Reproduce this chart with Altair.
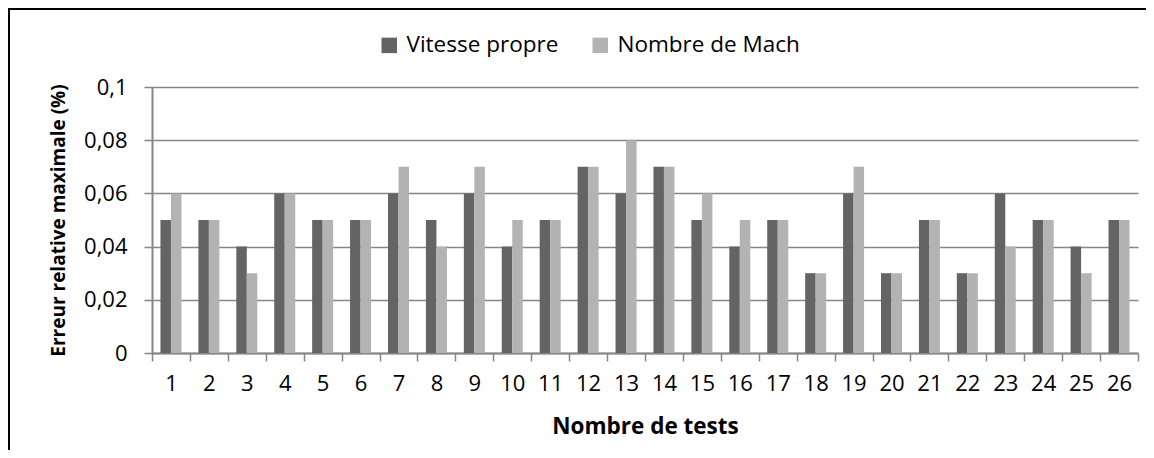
import altair as alt
import pandas as pd

tests = [str(i) for i in range(1, 27)]
vitesse = [0.05, 0.05, 0.04, 0.06, 0.05, 0.05, 0.06, 0.05, 0.06, 0.04, 0.05, 0.07, 0.06,
           0.07, 0.05, 0.04, 0.05, 0.03, 0.06, 0.03, 0.05, 0.03, 0.06, 0.05, 0.04, 0.05]
mach = [0.06, 0.05, 0.03, 0.06, 0.05, 0.05, 0.07, 0.04, 0.07, 0.05, 0.05, 0.07, 0.08,
        0.07, 0.06, 0.05, 0.05, 0.03, 0.07, 0.03, 0.05, 0.03, 0.04, 0.05, 0.03, 0.05]
series = ["Vitesse propre", "Nombre de Mach"]
colors = ["#646464", "#b3b3b3"]
y_ticks = [0, 0.02, 0.04, 0.06, 0.08, 0.1]

rows = []
for t, v, m in zip(tests, vitesse, mach):
    rows.append({"test": t, "serie": series[0], "valeur": v})
    rows.append({"test": t, "serie": series[1], "valeur": m})
df = pd.DataFrame(rows)

FONT = "Open Sans"
W, H = 986, 266
AXIS_GREY = "#868686"

bars = alt.Chart(df).mark_bar().encode(
    x=alt.X(
        "test:N", sort=tests,
        scale=alt.Scale(paddingInner=0, paddingOuter=0),
        axis=alt.Axis(
            title="Nombre de tests", labelAngle=0, tickBand="extent",
            domainColor=AXIS_GREY, domainWidth=2, tickColor=AXIS_GREY, tickWidth=1.5,
            tickSize=8, labelFont=FONT, labelFontSize=22, labelColor="black",
            labelPadding=12, titleFont=FONT, titleFontSize=22.5, titleFontWeight="bold",
            titleColor="black", titleX=W / 2, titleY=73, titleBaseline="middle",
            grid=False,
        ),
    ),
    xOffset=alt.XOffset("serie:N", sort=series,
                        scale=alt.Scale(paddingOuter=0.805, paddingInner=0)),
    y=alt.Y(
        "valeur:Q",
        scale=alt.Scale(domain=[0, 0.1], nice=False),
        axis=alt.Axis(
            values=y_ticks,
            labelExpr="replace(format(datum.value, '.2~f'), '.', ',')",
            title="Erreur relative maximale (%)",
            grid=True, gridColor=AXIS_GREY, gridWidth=1.5,
            domainColor=AXIS_GREY, domainWidth=2, tickColor=AXIS_GREY, tickWidth=1.5,
            tickSize=8, labelFont=FONT, labelFontSize=22, labelColor="black",
            labelPadding=17, titleFont=FONT, titleFontSize=19, titleFontWeight="bold",
            titleColor="black", titleX=-94, titleY=H / 2, titleBaseline="middle",
            titleAlign="center", titleLimit=400,
        ),
    ),
    color=alt.Color(
        "serie:N", sort=series,
        scale=alt.Scale(domain=series, range=colors),
        legend=alt.Legend(
            title=None, orient="none", legendX=226, legendY=-53,
            direction="horizontal", symbolType="square", symbolSize=240,
            symbolStrokeWidth=0, labelFont=FONT, labelFontSize=22.5,
            labelColor="black", labelOffset=6, columnPadding=30, padding=0,
            labelLimit=400,
        ),
    ),
)

border_data = alt.Data(values=[{"a": 1}])
border_top = alt.Chart(border_data).mark_rule(color="black", strokeWidth=2).encode(
    x=alt.value(-143), x2=alt.value(1010), y=alt.value(-78)
)
border_left = alt.Chart(border_data).mark_rule(color="black", strokeWidth=2).encode(
    x=alt.value(-143), y=alt.value(-79), y2=alt.value(420)
)

chart = alt.layer(bars, border_top, border_left).properties(
    width=W, height=H,
    padding={"left": 144, "top": 79, "right": 8, "bottom": 97},
    autosize=alt.AutoSizeParams(type="none"),
    background="white",
).configure_view(stroke=None)

chart.save("out.html", embed_options={"renderer": "svg", "actions": False})
